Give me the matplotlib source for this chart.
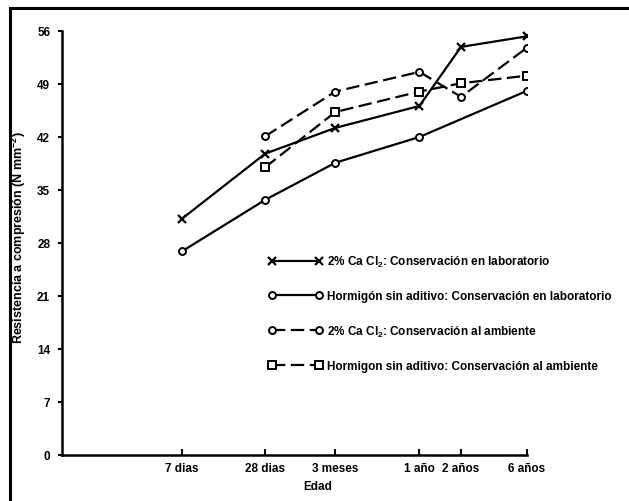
import matplotlib
matplotlib.use("Agg")
import matplotlib.pyplot as plt
from matplotlib.lines import Line2D

plt.rcParams['font.family'] = ['Liberation Sans', 'DejaVu Sans']
plt.rcParams['font.weight'] = 'bold'
plt.rcParams['mathtext.fontset'] = 'custom'
plt.rcParams['mathtext.rm'] = 'Liberation Sans:bold'
plt.rcParams['mathtext.it'] = 'Liberation Sans:bold'
plt.rcParams['mathtext.bf'] = 'Liberation Sans:bold'
plt.rcParams['mathtext.default'] = 'rm'

# Age in days (log scale) and tick labels
age_days = [7, 28, 90, 365, 730, 2190]
age_labels = ["7 dias", "28 dias", "3 meses", "1 año", "2 años", "6 años"]
y_ticks = [0, 7, 14, 21, 28, 35, 42, 49, 56]

# Series
cacl2_lab_x = [7, 28, 90, 365, 730, 2190]
cacl2_lab = [31.2, 39.8, 43.2, 46.1, 53.9, 55.3]

plain_lab_x = [7, 28, 90, 365, 2190]
plain_lab = [26.9, 33.7, 38.6, 42.0, 48.1]

cacl2_amb_x = [28, 90, 365, 730, 2190]
cacl2_amb = [42.1, 48.0, 50.6, 47.3, 53.8]

plain_amb_x = [28, 90, 365, 730, 2190]
plain_amb = [38.0, 45.3, 48.0, 49.1, 50.1]

labels = [
    "2% Ca Cl$_2$: Conservación en laboratorio",
    "Hormigón sin aditivo: Conservación en laboratorio",
    "2% Ca Cl$_2$: Conservación al ambiente",
    "Hormigon sin aditivo: Conservación al ambiente",
]

fig = plt.figure(figsize=(6.29, 5.02), dpi=100)
ax = fig.add_axes([62/629, 1-456/502, (527-62)/629, (456-32)/502])

lw = 1.6
ax.plot(cacl2_lab_x, cacl2_lab, color='black', lw=lw, marker='x', ms=6, mew=1.6,
        label=labels[0])
ax.plot(plain_lab_x, plain_lab, color='black', lw=lw, marker='o', ms=5, mew=1.4,
        mfc='white', label=labels[1])
ax.plot(cacl2_amb_x, cacl2_amb, color='black', lw=lw, ls=(0, (6, 2.5)), marker='o', ms=5,
        mew=1.4, mfc='white', label=labels[2])
ax.plot(plain_amb_x, plain_amb, color='black', lw=lw, ls=(0, (6, 2.5)), marker='s', ms=6,
        mew=1.4, mfc='white', label=labels[3])

ax.set_xscale('log')
ax.set_xlim(0.95, 2190)
ax.set_ylim(0, 56)
ax.set_xticks(age_days)
ax.set_xticklabels(age_labels, fontsize=8.5, fontweight='bold')
ax.xaxis.set_minor_locator(matplotlib.ticker.NullLocator())
ax.set_yticks(y_ticks)
ax.set_yticklabels([str(v) for v in y_ticks], fontsize=8.5, fontweight='bold')
ax.tick_params(axis='x', direction='in', length=4, width=1.5, pad=5)
ax.tick_params(axis='y', direction='out', length=3, width=1.5, pad=5.5)

for s in ['top', 'right']:
    ax.spines[s].set_visible(False)
for s in ['left', 'bottom']:
    ax.spines[s].set_linewidth(1.8)

ax.set_ylabel("Resistencia a compresión (N mm$^{-2}$)", fontsize=9, fontweight='bold')
ax.yaxis.set_label_coords(-(62-28)/465, 0.515)
ax.set_xlabel("Edad", fontsize=8.5, fontweight='bold')
ax.xaxis.set_label_coords((318-62)/465, -(481-456)/424)

leg = ax.legend(loc='upper left', bbox_to_anchor=((268-62)/465, (456-255)/424),
                numpoints=2, handlelength=4.65, handletextpad=0.35, labelspacing=1.8,
                frameon=False, fontsize=8.5, borderaxespad=0, borderpad=0)
for t in leg.get_texts():
    t.set_fontweight('bold')
    t.set_clip_on(False)

# Page border of the scanned figure
fig.add_artist(Line2D([10/629, 10/629], [0, 1-9/502], color='black', lw=2.2,
                      transform=fig.transFigure))
fig.add_artist(Line2D([10/629, 1], [1-9/502, 1-9/502], color='black', lw=2.2,
                      transform=fig.transFigure))

fig.savefig("out.png", dpi=100)
